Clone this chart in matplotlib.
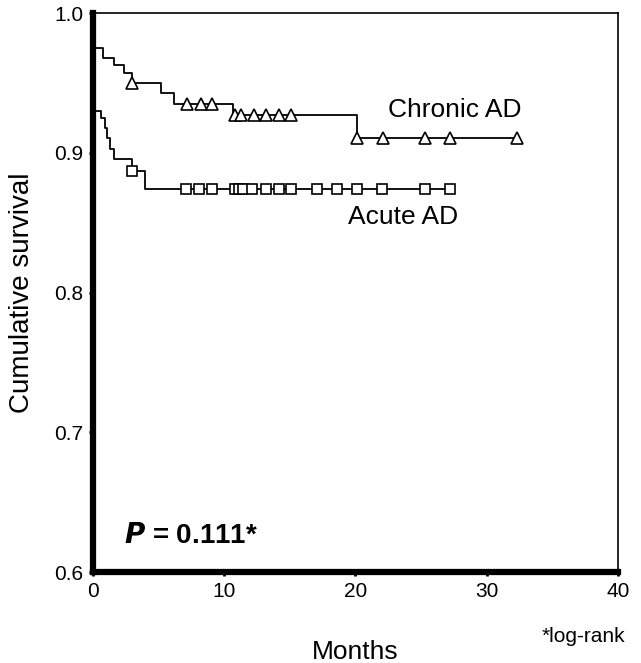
import numpy as np
import matplotlib.pyplot as plt

plt.rcParams['font.family'] = ['Liberation Sans', 'DejaVu Sans']

# Kaplan-Meier steps (months, survival after the drop)
chronic_times = [0.0, 0.0, 0.8, 1.6, 2.4, 3.0, 5.2, 6.2, 10.7, 20.1]
chronic_surv = [1.0, 0.975, 0.968, 0.963, 0.957, 0.950, 0.943, 0.935, 0.927, 0.911]
chronic_end = 32.3
chronic_censored = [3.0, 7.2, 8.2, 9.1, 10.8, 11.3, 12.3, 13.2, 14.2, 15.1,
                    20.1, 22.1, 25.3, 27.2, 32.3]

acute_times = [0.0, 0.05, 0.15, 0.6, 0.9, 1.1, 1.3, 1.6, 3.0, 4.0]
acute_surv = [1.0, 0.955, 0.930, 0.925, 0.918, 0.911, 0.903, 0.896, 0.887, 0.874]
acute_end = 27.2
acute_censored = [3.0, 7.1, 8.1, 9.1, 10.8, 11.1, 11.4, 12.1, 13.2, 14.2,
                  15.1, 17.1, 18.6, 20.1, 22.0, 25.3, 27.2]

x_ticks = [0, 10, 20, 30, 40]
y_ticks = [0.6, 0.7, 0.8, 0.9, 1.0]


def km_line(ax, times, surv, end, censored, marker, size):
    t = list(times) + [end]
    s = list(surv) + [surv[-1]]
    ax.step(t, s, where='post', color='black', lw=1.3, zorder=2)
    # censored marks sit on the curve at their time
    idx = np.searchsorted(times, censored, side='right') - 1
    cy = np.array(surv)[idx]
    ax.plot(censored, cy, ls='none', marker=marker, ms=size, mfc='white',
            mec='black', mew=1.2, zorder=3)


fig = plt.figure(figsize=(6.41, 6.63), dpi=100)
ax = fig.add_axes([0.145, 0.137, 0.819, 0.843])

km_line(ax, chronic_times, chronic_surv, chronic_end, chronic_censored, '^', 9)
km_line(ax, acute_times, acute_surv, acute_end, acute_censored, 's', 7.5)

ax.set_xlim(0, 40)
ax.set_ylim(0.6, 1.0)
ax.set_xticks(x_ticks)
ax.set_yticks(y_ticks)
ax.set_xticklabels([str(v) for v in x_ticks])
ax.set_yticklabels([f'{v:.1f}' for v in y_ticks])
ax.tick_params(labelsize=15, length=3, width=2, direction='out', pad=4)

for side in ['left', 'bottom']:
    ax.spines[side].set_linewidth(4.5)
for side in ['top', 'right']:
    ax.spines[side].set_linewidth(1.2)

ax.set_ylabel('Cumulative survival', fontsize=20, labelpad=14)
ax.set_xlabel('Months', fontsize=19, labelpad=28)

ax.text(22.5, 0.926, 'Chronic AD', fontsize=19, va='baseline', ha='left')
ax.text(19.4, 0.849, 'Acute AD', fontsize=19, va='baseline', ha='left')
ax.text(2.4, 0.621, r'$\bfit{P}$' + ' = 0.111*', fontsize=20,
        fontweight='bold', va='baseline', ha='left')
fig.text(0.975, 0.04, '*log-rank', fontsize=15, ha='right', va='center')

fig.savefig('out.png', dpi=100)
